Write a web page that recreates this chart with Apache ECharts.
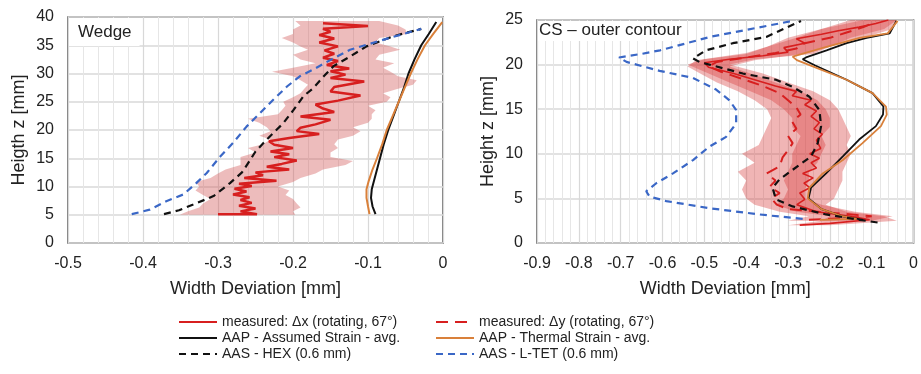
<!DOCTYPE html>
<html>
<head>
<meta charset="utf-8">
<script src="https://cdn.jsdelivr.net/npm/echarts@6/dist/echarts.min.js"></script>
<style>html,body{margin:0;padding:0;background:#fff}#c{width:921px;height:374px}</style>
</head>
<body>
<div id="c"></div>
<script>
// ---------- DATA ----------
// Series: [x = width deviation (mm), y = height z (mm)]
const NAME_MX = 'measured: Δx (rotating, 67°)';
const NAME_MY = 'measured: Δy (rotating, 67°)';
const NAME_AS = 'AAP - Assumed Strain - avg.';
const NAME_TS = 'AAP - Thermal Strain - avg.';
const NAME_HEX = 'AAS - HEX (0.6 mm)';
const NAME_LTET = 'AAS - L-TET (0.6 mm)';

// ---- Wedge (left) ----
const wedgeMeasuredX = [[-0.300,5.1],[-0.248,5.1],[-0.270,5.6],[-0.250,6.1],[-0.272,6.6],[-0.255,7.1],[-0.270,7.6],[-0.258,8.1],[-0.280,8.6],[-0.262,9.1],[-0.278,9.6],[-0.255,10.1],[-0.272,10.5],[-0.222,11.0],[-0.265,11.5],[-0.240,12.0],[-0.250,12.5],[-0.205,13.0],[-0.235,13.5],[-0.215,14.0],[-0.195,14.6],[-0.225,15.2],[-0.205,15.7],[-0.230,16.2],[-0.200,16.8],[-0.225,17.4],[-0.232,18.0],[-0.205,18.6],[-0.165,19.3],[-0.195,19.8],[-0.190,20.4],[-0.170,21.0],[-0.150,21.8],[-0.190,22.4],[-0.145,23.2],[-0.160,23.8],[-0.170,24.5],[-0.140,25.2],[-0.110,26.1],[-0.150,26.8],[-0.145,27.6],[-0.105,28.6],[-0.150,29.2],[-0.130,29.8],[-0.150,30.4],[-0.125,30.9],[-0.155,31.5],[-0.140,32.2],[-0.160,32.8],[-0.145,33.5],[-0.158,34.1],[-0.140,34.8],[-0.165,35.5],[-0.145,36.2],[-0.165,36.8],[-0.150,37.4],[-0.160,37.9],[-0.100,38.4],[-0.160,38.9]];
// band rows: [y, lower x, upper x]
const wedgeBandX = [[5.0,-0.351,-0.197],[5.6,-0.34,-0.20],[6.3,-0.325,-0.19],[7.0,-0.32,-0.195],[7.8,-0.31,-0.20],[8.5,-0.32,-0.21],[9.3,-0.33,-0.205],[10.0,-0.325,-0.22],[10.8,-0.33,-0.20],[11.5,-0.31,-0.19],[12.3,-0.30,-0.17],[13.0,-0.29,-0.16],[13.8,-0.27,-0.13],[14.5,-0.27,-0.12],[15.2,-0.27,-0.15],[16.0,-0.25,-0.15],[16.8,-0.26,-0.14],[17.5,-0.24,-0.145],[18.3,-0.23,-0.14],[19.0,-0.245,-0.12],[19.8,-0.23,-0.11],[20.5,-0.235,-0.12],[21.3,-0.245,-0.10],[22.0,-0.26,-0.095],[22.8,-0.22,-0.095],[23.5,-0.215,-0.09],[24.3,-0.21,-0.10],[25.0,-0.213,-0.075],[25.8,-0.20,-0.07],[26.5,-0.19,-0.08],[27.3,-0.185,-0.06],[28.0,-0.18,-0.04],[28.8,-0.19,-0.035],[29.5,-0.20,-0.06],[30.3,-0.228,-0.07],[31.0,-0.20,-0.08],[31.8,-0.17,-0.065],[32.5,-0.19,-0.09],[33.3,-0.20,-0.085],[34.2,-0.18,-0.057],[34.8,-0.19,-0.07],[35.5,-0.20,-0.09],[36.3,-0.215,-0.085],[37.0,-0.20,-0.048],[37.8,-0.20,-0.05],[38.5,-0.19,-0.06],[39.3,-0.197,-0.085]];
const wedgeAssumed = [[-0.090,5.1],[-0.094,6.5],[-0.096,8.0],[-0.095,9.5],[-0.092,11.0],[-0.088,13.0],[-0.084,15.0],[-0.079,17.5],[-0.073,20.0],[-0.066,22.5],[-0.059,25.0],[-0.052,27.5],[-0.046,30.0],[-0.038,32.5],[-0.029,35.0],[-0.019,37.0],[-0.009,39.1]];
const wedgeThermal = [[-0.098,5.1],[-0.100,6.5],[-0.102,8.0],[-0.102,9.5],[-0.099,11.0],[-0.094,13.0],[-0.088,15.0],[-0.081,17.5],[-0.075,20.0],[-0.067,22.5],[-0.059,25.0],[-0.051,27.5],[-0.043,30.0],[-0.034,32.5],[-0.024,35.0],[-0.013,37.0],[-0.001,39.1]];
const wedgeHex = [[-0.372,5.1],[-0.352,5.8],[-0.333,6.8],[-0.306,8.3],[-0.284,10.6],[-0.268,12.5],[-0.258,14.5],[-0.250,16.2],[-0.235,18.3],[-0.226,19.5],[-0.213,21.2],[-0.199,23.6],[-0.186,26.0],[-0.173,27.4],[-0.159,29.5],[-0.146,31.3],[-0.124,33.0],[-0.102,34.8],[-0.066,36.6],[-0.029,37.9]];
const wedgeLtet = [[-0.415,5.1],[-0.391,5.9],[-0.369,7.4],[-0.346,8.6],[-0.329,10.6],[-0.315,12.4],[-0.297,15.3],[-0.280,17.7],[-0.262,20.6],[-0.244,23.0],[-0.226,25.4],[-0.208,27.7],[-0.191,29.5],[-0.173,30.7],[-0.146,32.7],[-0.124,34.2],[-0.079,36.0],[-0.029,37.9]];

// ---- CS - outer contour (right) ----
const csMeasuredX = [[-0.272,2.0],[-0.20,2.2],[-0.105,2.6],[-0.15,3.0],[-0.232,3.5],[-0.279,4.3],[-0.26,4.9],[-0.272,5.6],[-0.248,6.2],[-0.262,6.7],[-0.240,7.3],[-0.265,7.8],[-0.232,8.4],[-0.245,9.0],[-0.225,9.5],[-0.248,10.0],[-0.222,10.6],[-0.232,11.5],[-0.218,12.2],[-0.238,12.8],[-0.225,13.5],[-0.245,14.2],[-0.232,14.8],[-0.26,15.5],[-0.245,16.0],[-0.29,16.5],[-0.28,17.0],[-0.33,17.6],[-0.38,18.3],[-0.43,19.0],[-0.49,19.7],[-0.50,20.2],[-0.44,20.6],[-0.36,21.0],[-0.30,21.4],[-0.31,21.9],[-0.26,22.4],[-0.28,22.9],[-0.22,23.4],[-0.18,23.8],[-0.13,24.2],[-0.09,24.6],[-0.06,25.0]];
const csMeasuredY = [[-0.25,2.6],[-0.16,2.8],[-0.10,3.0],[-0.20,3.4],[-0.30,3.8],[-0.327,4.3],[-0.34,5.0],[-0.32,5.6],[-0.344,6.3],[-0.33,7.0],[-0.351,7.8],[-0.32,8.6],[-0.313,9.6],[-0.30,10.4],[-0.289,11.2],[-0.30,12.0],[-0.28,12.8],[-0.29,13.6],[-0.27,14.4],[-0.28,15.2],[-0.30,16.0],[-0.32,16.8],[-0.36,17.6],[-0.41,18.4],[-0.46,19.2],[-0.49,19.8],[-0.47,20.3],[-0.40,20.8],[-0.33,21.3],[-0.28,21.8],[-0.26,22.4],[-0.20,23.0],[-0.16,23.6],[-0.12,24.2],[-0.09,24.8]];
const csBandX = [[2.0,-0.30,-0.20],[2.5,-0.22,-0.04],[3.0,-0.20,-0.07],[3.5,-0.28,-0.16],[4.3,-0.33,-0.21],[5.0,-0.31,-0.19],[6.0,-0.30,-0.18],[7.0,-0.31,-0.17],[8.0,-0.30,-0.17],[9.0,-0.29,-0.16],[10.0,-0.29,-0.15],[11.0,-0.28,-0.16],[12.0,-0.27,-0.15],[13.0,-0.29,-0.16],[14.0,-0.29,-0.17],[15.0,-0.31,-0.18],[16.0,-0.34,-0.20],[17.0,-0.39,-0.24],[18.0,-0.44,-0.30],[19.0,-0.49,-0.36],[20.0,-0.54,-0.44],[20.6,-0.50,-0.38],[21.2,-0.40,-0.24],[22.0,-0.35,-0.20],[23.0,-0.30,-0.15],[24.0,-0.22,-0.07],[25.0,-0.12,-0.04]];
const csBandY = [[2.5,-0.30,-0.10],[3.0,-0.25,-0.05],[3.5,-0.32,-0.14],[4.3,-0.38,-0.22],[5.0,-0.40,-0.26],[6.0,-0.41,-0.26],[7.0,-0.40,-0.25],[8.0,-0.42,-0.25],[9.0,-0.38,-0.23],[10.0,-0.41,-0.22],[11.0,-0.37,-0.21],[12.0,-0.36,-0.22],[13.0,-0.35,-0.20],[14.0,-0.34,-0.20],[15.0,-0.35,-0.21],[16.0,-0.38,-0.23],[17.0,-0.42,-0.27],[18.0,-0.47,-0.33],[19.0,-0.51,-0.39],[19.8,-0.54,-0.44],[20.5,-0.52,-0.38],[21.3,-0.40,-0.25],[22.0,-0.35,-0.20],[23.0,-0.28,-0.12],[24.0,-0.22,-0.05],[25.0,-0.15,-0.04]];
const csAssumed = [[-0.120,2.6],[-0.170,3.0],[-0.220,3.8],[-0.251,5.0],[-0.245,6.2],[-0.209,7.8],[-0.169,9.7],[-0.130,11.6],[-0.090,13.1],[-0.073,14.4],[-0.072,15.3],[-0.098,16.8],[-0.160,18.3],[-0.235,19.9],[-0.265,20.6],[-0.257,20.8],[-0.208,21.6],[-0.160,22.4],[-0.112,23.0],[-0.057,23.5],[-0.041,24.9]];
const csThermal = [[-0.224,2.6],[-0.136,2.7],[-0.170,3.0],[-0.220,3.8],[-0.253,5.0],[-0.249,6.2],[-0.217,7.8],[-0.169,9.3],[-0.122,11.2],[-0.078,13.1],[-0.064,14.4],[-0.066,15.3],[-0.098,16.8],[-0.160,18.3],[-0.241,19.8],[-0.279,20.5],[-0.289,20.9],[-0.208,22.0],[-0.129,23.0],[-0.062,23.5],[-0.038,24.9]];
const csHex = [[-0.086,2.3],[-0.130,2.6],[-0.209,3.2],[-0.289,4.1],[-0.329,4.9],[-0.337,6.2],[-0.321,7.1],[-0.289,8.2],[-0.245,9.7],[-0.229,11.2],[-0.221,13.1],[-0.225,14.9],[-0.249,16.4],[-0.289,17.5],[-0.329,18.3],[-0.408,19.0],[-0.488,20.0],[-0.512,20.3],[-0.527,20.7],[-0.496,21.6],[-0.432,22.4],[-0.352,23.1],[-0.269,24.9]];
const csLtet = [[-0.265,2.7],[-0.368,3.2],[-0.488,3.9],[-0.591,4.7],[-0.631,5.2],[-0.639,5.8],[-0.615,6.7],[-0.575,7.8],[-0.527,9.3],[-0.488,10.8],[-0.448,11.9],[-0.424,13.4],[-0.424,14.9],[-0.440,16.0],[-0.472,17.2],[-0.527,18.5],[-0.607,19.3],[-0.686,20.3],[-0.704,20.8],[-0.650,21.2],[-0.606,21.6],[-0.542,22.4],[-0.487,23.1],[-0.399,23.9],[-0.289,24.9]];

// ---------- STYLE ----------
const FONT = '"Liberation Sans", Arial, sans-serif';
const C_RED = '#d71f1f', C_BLACK = '#111111', C_ORANGE = '#d9803a', C_BLUE = '#3a67c6';

function bandSeries(band, gi, color) {
  return {
    type: 'custom', xAxisIndex: gi, yAxisIndex: gi, silent: true, z: 1,
    data: band.map(r => [r[1], r[0]]),
    encode: { x: 0, y: 1 },
    renderItem: function (params, api) {
      if (params.dataIndex !== 0) return null;
      const pts = [];
      for (let i = 0; i < band.length; i++) pts.push(api.coord([band[i][1], band[i][0]]));
      for (let i = band.length - 1; i >= 0; i--) pts.push(api.coord([band[i][2], band[i][0]]));
      return { type: 'polygon', shape: { points: pts }, style: { fill: color } };
    }
  };
}
function lineSeries(name, data, gi, color, width, dash, z) {
  return {
    name: name, type: 'line', xAxisIndex: gi, yAxisIndex: gi, data: data,
    symbol: 'none', smooth: false, z: z || 3, animation: false,
    lineStyle: { color: color, width: width, type: dash || 'solid' },
    itemStyle: { color: color }
  };
}
function xAxis(gi, min) {
  return {
    type: 'value', gridIndex: gi, min: min, max: 0, interval: 0.1,
    name: 'Width Deviation [mm]', nameLocation: 'middle', nameGap: 37,
    nameTextStyle: { fontSize: 18, color: '#222', fontFamily: FONT },
    axisLine: { show: false }, axisTick: { show: false },
    axisLabel: { fontSize: 16, color: '#222', fontFamily: FONT, margin: 13,
      formatter: v => (Math.abs(v) < 1e-9 ? '0' : (+v.toFixed(1)).toString()) },
    splitLine: { show: true, lineStyle: { color: '#d8d8d8', width: 1.2 } },
    minorTick: { show: false, splitNumber: 5 },
    minorSplitLine: { show: true, lineStyle: { color: '#e6e6e6', width: 1 } }
  };
}
function yAxis(gi, max, title) {
  return {
    type: 'value', gridIndex: gi, min: 0, max: max, interval: 5,
    name: title, nameLocation: 'middle', nameGap: 40, nameRotate: 90,
    nameTextStyle: { fontSize: 18, color: '#222', fontFamily: FONT },
    axisLine: { show: false }, axisTick: { show: false },
    axisLabel: { fontSize: 16, color: '#222', fontFamily: FONT, margin: 14 },
    splitLine: { show: true, lineStyle: { color: '#d8d8d8', width: 1.5 } }
  };
}
function legend(left, names) {
  return {
    left: left, top: 315, orient: 'vertical', padding: 0,
    itemWidth: 38, itemHeight: 14, itemGap: 2, selectedMode: false,
    itemStyle: { opacity: 0 },
    textStyle: { fontSize: 14, color: '#222', fontFamily: FONT },
    data: names
  };
}

const chart = echarts.init(document.getElementById('c'), null, { renderer: 'canvas' });
chart.setOption({
  animation: false,
  backgroundColor: '#fff',
  textStyle: { fontFamily: FONT },
  grid: [
    { left: 68, right: 478, top: 17, bottom: 131, show: true, borderColor: '#5a5a5a', borderWidth: 1.5, backgroundColor: 'transparent' },
    { left: 537, right: 7, top: 20, bottom: 131, show: true, borderColor: '#5a5a5a', borderWidth: 1.5, backgroundColor: 'transparent' }
  ],
  title: [
    { text: 'Wedge', left: 69, top: 18, padding: [6, 8, 5, 9], backgroundColor: '#fff',
      textStyle: { fontSize: 17, fontWeight: 'normal', color: '#222', fontFamily: FONT } },
    { text: 'CS – outer contour', left: 538, top: 21, padding: [1, 5, 2, 1], backgroundColor: '#fff',
      textStyle: { fontSize: 17, fontWeight: 'normal', color: '#222', fontFamily: FONT } }
  ],
  legend: [
    legend(178, [NAME_MX, NAME_AS, NAME_HEX]),
    legend(435, [NAME_MY, NAME_TS, NAME_LTET])
  ],
  xAxis: [xAxis(0, -0.5), xAxis(1, -0.9)],
  yAxis: [yAxis(0, 40, 'Heigth z [mm]'), yAxis(1, 25, 'Height z [mm]')],
  series: [
    bandSeries(wedgeBandX, 0, 'rgba(212,95,95,0.42)'),
    bandSeries(csBandX, 1, 'rgba(215,60,60,0.38)'),
    bandSeries(csBandY, 1, 'rgba(215,60,60,0.38)'),
    lineSeries(NAME_MX, wedgeMeasuredX, 0, C_RED, 2.5, 'solid', 3),
    lineSeries(NAME_AS, wedgeAssumed, 0, C_BLACK, 2, 'solid', 4),
    lineSeries(NAME_TS, wedgeThermal, 0, C_ORANGE, 2, 'solid', 4),
    lineSeries(NAME_HEX, wedgeHex, 0, C_BLACK, 2.2, [7, 5], 5),
    lineSeries(NAME_LTET, wedgeLtet, 0, C_BLUE, 2.2, [7, 5], 5),
    lineSeries(NAME_MX, csMeasuredX, 1, C_RED, 1.6, 'solid', 3),
    lineSeries(NAME_MY, csMeasuredY, 1, C_RED, 2, [12, 7], 3),
    lineSeries(NAME_AS, csAssumed, 1, C_BLACK, 1.8, 'solid', 4),
    lineSeries(NAME_TS, csThermal, 1, C_ORANGE, 1.8, 'solid', 4),
    lineSeries(NAME_HEX, csHex, 1, C_BLACK, 2.2, [7, 5], 5),
    lineSeries(NAME_LTET, csLtet, 1, C_BLUE, 2.2, [7, 5], 5)
  ]
});
</script>
</body>
</html>
